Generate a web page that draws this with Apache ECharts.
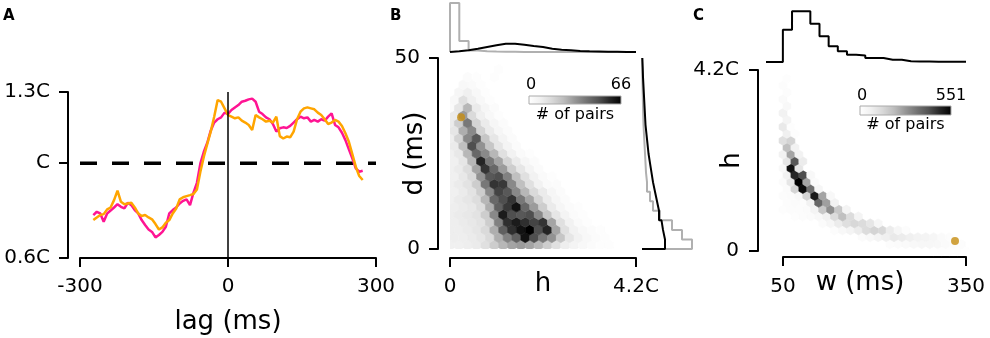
<!DOCTYPE html>
<html><head><meta charset="utf-8">
<script src="https://cdn.jsdelivr.net/npm/echarts@6/dist/echarts.min.js"></script>
<style>html,body{margin:0;padding:0;background:#fff}#c{width:990px;height:338px}</style>
</head><body><div id="c"></div>
<script>
// ---------- Panel A ----------
const lagMs = [-273,-266,-259,-252,-245,-238,-231,-224,-217,-210,-203,-196,-189,-182,-175,-168,-161,-154,-147,-140,-133,-126,-119,-112,-105,-98,-91,-84,-77,-70,-63,-56,-49,-42,-35,-28,-21,-14,-7,0,7,14,21,28,35,42,49,56,63,70,77,84,91,98,105,112,119,126,133,140,147,154,161,168,175,182,189,196,203,210,217,224,231,238,245,252,259,266,273];
const pinkVals = [0.781,0.795,0.788,0.753,0.788,0.800,0.813,0.827,0.816,0.809,
0.833,0.823,0.802,0.788,0.760,0.739,0.720,0.710,0.687,0.697,
0.710,0.732,0.788,0.802,0.813,0.830,0.841,0.847,0.823,0.876,
0.917,0.999,1.048,1.086,1.137,1.171,1.185,1.193,1.213,1.207,
1.224,1.235,1.245,1.259,1.263,1.269,1.272,1.259,1.217,1.207,
1.193,1.185,1.165,1.133,1.147,1.151,1.148,1.157,1.171,1.185,
1.196,1.189,1.193,1.175,1.182,1.175,1.185,1.179,1.196,1.210,
1.161,1.151,1.128,1.097,1.058,1.020,0.978,0.964,0.968];
const orangeVals = [0.760,0.771,0.781,0.785,0.805,0.813,0.844,0.884,0.837,0.827,
0.830,0.833,0.813,0.788,0.777,0.781,0.771,0.763,0.743,0.720,
0.729,0.749,0.760,0.788,0.809,0.847,0.856,0.861,0.865,0.870,
0.889,0.964,1.027,1.081,1.133,1.196,1.266,1.259,1.231,1.203,
1.196,1.189,1.193,1.179,1.171,1.161,1.140,1.203,1.193,1.185,
1.175,1.179,1.171,1.196,1.114,1.104,1.112,1.109,1.133,1.185,
1.217,1.231,1.235,1.231,1.227,1.213,1.203,1.185,1.165,1.171,
1.182,1.175,1.157,1.126,1.090,1.038,0.985,0.946,0.929];
const refLevel = 1.0;
const aYTicks = [0.6, 1.0, 1.3];
const aYLabels = ['0.6C', 'C', '1.3C'];
const aXTicks = [-300, 0, 300];

// ---------- Panel B ----------
// rows j: d = 1 + 2*j ms ; columns i: h = 0.2*i (+0.1 on odd rows)
const hexBRows = [
 [8,8,9,10,14,20,26,30,32,30,26,20,14,9,6,4,2,1,1],
 [9,9,10,12,16,28,38,46,62,50,40,34,22,12,7,4,2,1,0],
 [9,9,10,12,16,28,46,56,62,66,50,58,30,14,7,4,2,1,0],
 [9,10,11,13,20,38,56,60,56,52,55,30,14,7,3,1,0,0,0],
 [9,10,11,13,20,36,60,50,48,50,36,22,12,6,2,1,0,0,0],
 [9,10,11,15,28,46,54,62,44,32,20,10,5,2,1,0,0,0,0],
 [8,10,12,15,26,44,50,55,40,30,18,10,5,2,0,0,0,0,0],
 [8,10,13,20,36,52,48,36,26,16,10,5,2,0,0,0,0,0,0],
 [8,10,13,20,40,55,54,36,24,14,7,3,2,0,0,0,0,0,0],
 [8,11,16,34,48,50,38,24,14,7,3,1,0,0,0,0,0,0,0],
 [8,10,15,30,55,44,32,20,12,6,2,0,0,0,0,0,0,0,0],
 [8,12,26,58,40,30,18,10,5,2,0,0,0,0,0,0,0,0,0],
 [8,11,26,44,36,26,14,7,3,1,0,0,0,0,0,0,0,0,0],
 [10,24,50,34,22,12,6,2,0,0,0,0,0,0,0,0,0,0,0],
 [9,18,36,48,22,12,6,2,0,0,0,0,0,0,0,0,0,0,0],
 [12,28,36,18,10,5,2,0,0,0,0,0,0,0,0,0,0,0,0],
 [10,20,40,18,10,5,2,0,0,0,0,0,0,0,0,0,0,0,0],
 [10,32,16,8,4,1,0,0,0,0,0,0,0,0,0,0,0,0,0],
 [3,12,26,10,5,2,0,0,0,0,0,0,0,0,0,0,0,0,0],
 [4,14,8,4,1,0,0,0,0,0,0,0,0,0,0,0,0,0,0],
 [0,5,8,4,1,0,0,0,0,0,0,0,0,0,0,0,0,0,0],
 [0,4,3,1,0,0,0,0,0,0,0,0,0,0,0,0,0,0,0],
 [0,0,2,1,0,1,0,0,0,0,0,0,0,0,0,0,0,0,0],
 [0,0,0,0,0,1,0,0,0,0,0,0,0,0,0,0,0,0,0]
];
const hexBMax = 66;
const dotB = [0.25, 34.5];
const histBTopBlack = [0.8,1.7,3.3,5,6.7,8.3,8.3,7.3,6,5,3.3,2.3,1.7,1,0.7,0.5,0.3,0.2,0.1,0.1];
const histBTopGray  = [49,11,1.5,0.8,0.5,0.3,0.2,0.1,0.1,0,0,0,0,0,0,0,0,0,0,0];
const histBRightBlack = [23,21,19.5,17,15,13,11,9.5,8,6.5,5.5,4.5,3.5,3,2.5,2,1.5,1,0.7,0.3];
const histBRightGray  = [50,40,30,18,11,8,5,4,3.5,3,2.5,2,1.5,1.2,1,0.8,0.6,0.4,0.3,0.2];

// ---------- Panel C ----------
// rows j: h = 0.16*j ; each row = [startColumn, counts...], column i: w = 50 + 13*i (+6.5 odd rows)
const hexCRows = [
 [19, 5,8,10,8,5],
 [13, 15,20,25,30,35,35,30,25,20,15],
 [10, 20,30,50,70,90,80,70,55,50,40,25,15],
 [6, 15,30,50,80,130,150,140,80,40,15],
 [5, 20,40,80,120,140,130,100,40],
 [1, 10,15,20,30,60,130,200,130,50],
 [0, 10,15,15,20,50,180,290,180,50],
 [0, 15,20,15,60,370,260,60],
 [0, 15,20,30,150,500,250,30],
 [0, 20,150,530,350,40],
 [0, 20,100,551,250,20],
 [0, 60,480,420,30],
 [0, 30,520,100],
 [0, 100,400,80],
 [0, 60,250,60],
 [0, 200,60],
 [0, 120,150],
 [0, 70,10],
 [0, 90,10],
 [0, 50],
 [0, 60],
 [0, 30],
 [0, 25],
 [0, 12],
 [0, 15],
 [0, 8]
];
const hexCMax = 551;
const dotC = [332, 0.23];
const histCTop = [0,0,32.3,50.7,50.7,38.3,25.7,15.7,10.7,7.3,6.5,4,4,2.3,2.3,0.7,0.5,0.4,0.3,0.3,0.2,0.2];

// ---------- geometry of bins ----------
const hexB = {colStep: 0.2, rowStep: 2, row0: 1, col0: 0};
const hexC = {colStep: 13, rowStep: 0.16, row0: 0, col0: 50};
const greys = ['#ffffff','#f0f0f0','#d9d9d9','#bdbdbd','#969696','#737373','#525252','#252525','#000000'];
const FONT = 'DejaVu Sans';

const hexBData = [];
hexBRows.forEach((row, j) => row.forEach((n, i) => {
  if (n > 0) hexBData.push([hexB.col0 + hexB.colStep * (i + (j % 2 ? 0.5 : 0)), hexB.row0 + hexB.rowStep * j, n]);
}));
const hexCData = [];
hexCRows.forEach((row, j) => row.slice(1).forEach((n, k) => {
  const i = row[0] + k;
  if (n > 0) hexCData.push([hexC.col0 + hexC.colStep * (i + (j % 2 ? 0.5 : 0)), hexC.row0 + hexC.rowStep * j, n]);
}));

function stepOutline(edge0, width, vals, vertical) {
  const pts = [];
  const push = (pos, v) => pts.push(vertical ? [v, pos] : [pos, v]);
  push(edge0, 0);
  vals.forEach((v, k) => { push(edge0 + k * width, v); push(edge0 + (k + 1) * width, v); });
  push(edge0 + vals.length * width, 0);
  return pts;
}

function hexItem(step) {
  return function (params, api) {
    const c = api.coord([api.value(0), api.value(1)]);
    const w = api.size([step, 0])[0];
    const r = w / Math.sqrt(3);
    const pts = [];
    for (let k = 0; k < 6; k++) {
      const a = Math.PI / 6 + k * Math.PI / 3;
      pts.push([c[0] + r * Math.cos(a), c[1] + r * Math.sin(a)]);
    }
    const col = api.visual('color');
    return {type: 'polygon', shape: {points: pts}, style: {fill: col, stroke: col, lineWidth: 0.6}};
  };
}

function axis(o) {
  return {
    type: 'value', gridIndex: o.grid, min: o.min, max: o.max, offset: o.offset || 0,
    splitLine: {show: false},
    axisLine: {show: true, onZero: false, lineStyle: {color: '#000', width: 2}},
    axisTick: {show: true, length: 9, lineStyle: {color: '#000', width: 2}, customValues: o.ticks},
    axisLabel: {customValues: o.ticks, formatter: o.fmt, fontSize: 20, color: '#000', fontFamily: FONT, margin: o.margin},
    name: o.name, nameLocation: 'middle', nameGap: o.nameGap, nameMoveOverlap: false,
    nameTextStyle: {fontSize: 26, color: '#000', fontFamily: FONT, padding: o.namePad || 0}
  };
}
function hidden(grid, min, max) { return {type: 'value', gridIndex: grid, min: min, max: max, show: false, splitLine: {show: false}}; }

const chart = echarts.init(document.getElementById('c'), null, {renderer: 'canvas'});
const gradStops = greys.map((c, k) => ({offset: k / (greys.length - 1), color: c}));
function colorbar(x, y, w, h, maxLabel, labelY, nameY) {
  return [
    {type: 'rect', shape: {x: x, y: y, width: w, height: h}, style: {fill: new echarts.graphic.LinearGradient(0, 0, 1, 0, gradStops), stroke: '#aaaaaa', lineWidth: 1}},
    {type: 'text', x: x + 2, y: labelY, style: {text: '0', font: '16px "DejaVu Sans"', fill: '#000', align: 'center', verticalAlign: 'middle'}},
    {type: 'text', x: x + w, y: labelY, style: {text: String(maxLabel), font: '16px "DejaVu Sans"', fill: '#000', align: 'center', verticalAlign: 'middle'}},
    {type: 'text', x: x + w / 2, y: nameY, style: {text: '# of pairs', font: '16px "DejaVu Sans"', fill: '#000', align: 'center', verticalAlign: 'middle'}}
  ];
}
const panelLabel = (t, x) => ({type: 'text', x: x, y: 9, style: {text: t, font: 'bold 15px "DejaVu Sans"', fill: '#000', align: 'left', verticalAlign: 'top'}});

chart.setOption({
  animation: false,
  backgroundColor: '#fff',
  grid: [
    {left: 80, top: 92, width: 296, height: 166},
    {left: 450, top: 58, width: 186, height: 191},
    {left: 450, top: 0, width: 186, height: 52},
    {left: 642, top: 58, width: 55, height: 191},
    {left: 783, top: 70, width: 183, height: 181},
    {left: 767, top: 0, width: 199, height: 62}
  ],
  xAxis: [
    axis({grid: 0, min: -300, max: 300, ticks: aXTicks, fmt: v => String(v), margin: 19, name: 'lag (ms)', nameGap: 51}),
    axis({grid: 1, min: 0, max: 4.2, offset: 9, ticks: [0, 4.2], fmt: v => (v === 0 ? '0' : '4.2C'), margin: 19, name: 'h', nameGap: 13}),
    hidden(2, 0, 4.2),
    hidden(3, 0, 55),
    axis({grid: 4, min: 50, max: 350, offset: 6, ticks: [50, 350], fmt: v => String(v), margin: 20, name: 'w (ms)', nameGap: 13, namePad: [0, 29, 0, 0]}),
    hidden(5, 24, 350)
  ],
  yAxis: [
    axis({grid: 0, min: 0.6, max: 1.3, offset: 12, ticks: aYTicks, fmt: v => aYLabels[aYTicks.findIndex(t => Math.abs(t - v) < 1e-6)], margin: 18}),
    axis({grid: 1, min: 0, max: 50, offset: 12, ticks: [0, 50], fmt: v => String(v), margin: 18, name: 'd (ms)', nameGap: 10}),
    hidden(2, 0, 52),
    hidden(3, 0, 50),
    axis({grid: 4, min: 0, max: 4.2, offset: 25, ticks: [0, 4.2], fmt: v => (v === 0 ? '0' : '4.2C'), margin: 19, name: 'h', nameGap: 13}),
    hidden(5, 0, 62)
  ],
  visualMap: [
    {show: false, type: 'continuous', seriesIndex: 4, dimension: 2, min: 0, max: hexBMax, inRange: {color: greys}},
    {show: false, type: 'continuous', seriesIndex: 10, dimension: 2, min: 0, max: hexCMax, inRange: {color: greys}}
  ],
  series: [
    {type: 'line', xAxisIndex: 0, yAxisIndex: 0, data: lagMs.map((x, k) => [x, pinkVals[k]]), showSymbol: false, symbol: 'none', lineStyle: {color: '#ff1493', width: 2.5}, z: 3},
    {type: 'line', xAxisIndex: 0, yAxisIndex: 0, data: lagMs.map((x, k) => [x, orangeVals[k]]), showSymbol: false, symbol: 'none', lineStyle: {color: '#ffa500', width: 2.5}, z: 4},
    {type: 'line', xAxisIndex: 0, yAxisIndex: 0, data: [[-300, refLevel], [300, refLevel]], symbol: 'none', lineStyle: {color: '#000', width: 3.5, type: [17, 15]}, z: 2},
    {type: 'line', xAxisIndex: 0, yAxisIndex: 0, data: [[0, 0.6], [0, 1.3]], symbol: 'none', lineStyle: {color: '#000', width: 1.5}, z: 5},
    {type: 'custom', xAxisIndex: 1, yAxisIndex: 1, data: hexBData, renderItem: hexItem(hexB.colStep), clip: true, z: 2},
    {type: 'scatter', xAxisIndex: 1, yAxisIndex: 1, data: [dotB], symbolSize: 8, itemStyle: {color: '#c58c10'}, z: 5},
    {type: 'line', xAxisIndex: 2, yAxisIndex: 2, data: stepOutline(0, 0.21, histBTopGray, false), symbol: 'none', lineStyle: {color: '#b0b0b0', width: 2}},
    {type: 'line', xAxisIndex: 2, yAxisIndex: 2, data: stepOutline(0, 0.21, histBTopBlack, false), symbol: 'none', lineStyle: {color: '#000', width: 2}},
    {type: 'line', xAxisIndex: 3, yAxisIndex: 3, data: stepOutline(0, 2.5, histBRightGray, true), symbol: 'none', lineStyle: {color: '#b0b0b0', width: 2}},
    {type: 'line', xAxisIndex: 3, yAxisIndex: 3, data: stepOutline(0, 2.5, histBRightBlack, true), symbol: 'none', lineStyle: {color: '#000', width: 2}},
    {type: 'custom', xAxisIndex: 4, yAxisIndex: 4, data: hexCData, renderItem: hexItem(hexC.colStep), z: 2},
    {type: 'scatter', xAxisIndex: 4, yAxisIndex: 4, data: [dotC], symbolSize: 8, itemStyle: {color: '#c58c10'}, z: 5},
    {type: 'line', xAxisIndex: 5, yAxisIndex: 5, data: stepOutline(20, 15, histCTop, false), symbol: 'none', lineStyle: {color: '#000', width: 2}}
  ],
  graphic: [
    panelLabel('A', 3), panelLabel('B', 390), panelLabel('C', 693),
    ...colorbar(529, 96, 92, 8, 66, 85, 115),
    ...colorbar(860, 106, 91, 9, 551, 96, 125)
  ]
});
</script>
</body></html>
